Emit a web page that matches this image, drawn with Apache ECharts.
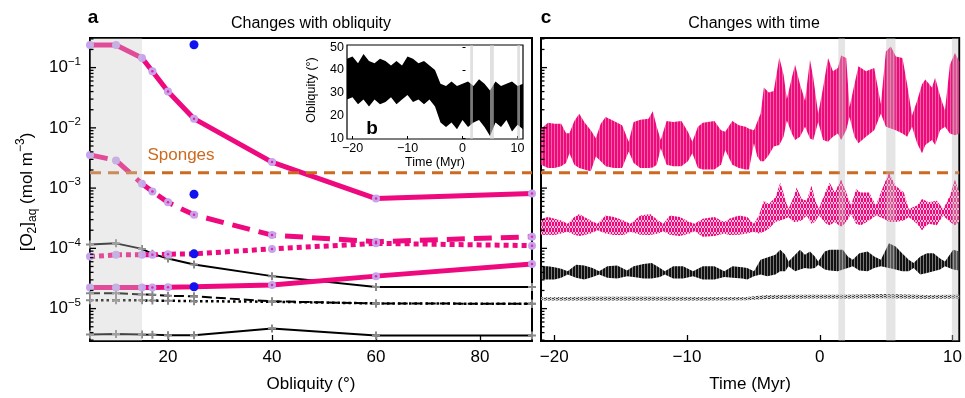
<!DOCTYPE html>
<html><head><meta charset="utf-8">
<script src="https://cdn.jsdelivr.net/npm/echarts@6/dist/echarts.min.js"></script>
<style>html,body{margin:0;padding:0;background:#fff}#c{width:965px;height:398px}</style>
</head><body><div id="c"></div>
<script>
// ---------------- DATA ----------------
// Panel a: [O2]aq vs obliquity
const obliquity = [5, 10, 15, 17, 20, 25, 40, 60, 90];
const pinkSolidHigh = [0.237, 0.237, 0.144, 0.087, 0.040, 0.0142, 0.0027, 6.7e-4, 8.1e-4];
const pinkDashed   = [3.56e-3, 2.88e-3, 1.18e-3, 8.8e-4, 5.8e-4, 3.6e-4, 1.66e-4, 1.29e-4, 1.56e-4];
const pinkDotted   = [7.3e-5, 7.8e-5, 7.8e-5, 7.8e-5, 8.0e-5, 8.1e-5, 9.8e-5, 1.21e-4, 1.11e-4];
const pinkSolidLow = [2.23e-5, 2.25e-5, 2.25e-5, 2.25e-5, 2.26e-5, 2.3e-5, 2.47e-5, 3.46e-5, 5.5e-5];
const blackSolidHigh = [1.16e-4, 1.21e-4, 9.8e-5, 8.1e-5, 6.8e-5, 5.4e-5, 3.46e-5, 2.29e-5, 2.29e-5];
const blackDashed  = [1.80e-5, 1.80e-5, 1.72e-5, 1.70e-5, 1.63e-5, 1.60e-5, 1.32e-5, 1.22e-5, 1.20e-5];
const blackDotted  = [1.37e-5, 1.37e-5, 1.37e-5, 1.36e-5, 1.35e-5, 1.33e-5, 1.30e-5, 1.22e-5, 1.20e-5];
const blackSolidLow = [3.71e-6, 3.8e-6, 3.71e-6, 3.7e-6, 3.6e-6, 3.6e-6, 4.67e-6, 3.57e-6, 3.57e-6];
const blueObliquity = 25;
const blueValues = [0.24, 7.9e-4, 8.1e-5, 2.31e-5];
const spongeThreshold = 1.8e-3;
const shadedObliquity = [5, 15];

// Panel c: envelopes (low / high) of [O2]aq vs time (Myr)
const tA = [-21.0,-20.47,-19.98,-19.48,-19.11,-18.86,-18.49,-18.12,-17.74,-17.25,-16.87,-16.50,-16.13,-15.51,-14.89,-14.39,-14.02,-13.52,-12.9,-12.58,-12.28,-11.98,-11.54,-11.04,-10.42,-9.93,-9.60,-9.18,-8.81,-7.94,-7.44,-7.12,-6.59,-6.09,-5.59,
  -5.33,-4.96,-4.71,-4.46,-4.21,-3.84,-3.47,-3.05,-2.73,-2.48,-2.11,-1.86,-1.49,-1.11,-0.74,-0.49,-0.12,0.25,0.62,0.99,1.36,1.61,1.99,2.24,2.61,2.91,3.48,4.10,4.60,4.98,5.35,5.73,6.23,6.58,6.95,7.33,7.70,7.95,8.45,8.69,9.06,9.43,9.80,10.18,10.5];
const hiA = [0.0097,0.0121,0.0117,0.0117,0.0081,0.0081,0.0130,0.0171,0.0125,0.0091,0.0067,0.0117,0.0151,0.0130,0.0110,0.0059,0.0125,0.0136,0.0142,0.0189,0.0104,0.0063,0.0130,0.0125,0.0130,0.0086,0.0059,0.0104,0.0121,0.0130,0.0091,0.0086,0.0130,0.0110,0.0104,
  0.0097,0.0091,0.0125,0.0171,0.0466,0.0386,0.0410,0.147,0.0769,0.0300,0.0679,0.112,0.0528,0.0282,0.135,0.0679,0.0171,0.0466,0.144,0.0871,0.0989,0.159,0.144,0.0220,0.0528,0.105,0.0871,0.0989,0.0249,0.185,0.223,0.153,0.144,0.0528,0.0160,0.0282,0.0528,0.0637,0.0466,0.0679,0.0340,0.0194,0.112,0.174,0.127];
const loA = [0.00245,0.00216,0.00216,0.0023,0.00261,0.0038,0.00245,0.00216,0.00203,0.00191,0.00336,0.00278,0.0023,0.00216,0.00216,0.00405,0.00261,0.00216,0.00216,0.0022,0.00245,0.00458,0.00245,0.0023,0.0023,0.00278,0.0038,0.00216,0.00203,0.00203,0.00245,0.0043,0.00245,0.00216,0.00203,
  0.00203,0.00553,0.00336,0.00278,0.00278,0.00356,0.00489,0.00519,0.00711,0.0133,0.00806,0.00627,0.00711,0.0104,0.00667,0.00627,0.0125,0.00627,0.00589,0.00711,0.00806,0.00627,0.00913,0.0151,0.00711,0.00553,0.00711,0.00913,0.0171,0.0104,0.00972,0.00913,0.00806,0.00711,0.0104,0.00553,0.0038,0.00519,0.00627,0.00519,0.00913,0.0104,0.00806,0.00757,0.00806];

const tB = [-21.0,-20.47,-19.98,-19.48,-18.99,-18.49,-18.12,-17.74,-17.25,-16.75,-16.13,-15.51,-14.77,-14.27,-13.52,-12.78,-12.16,-11.79,-11.29,-10.55,-9.80,-9.43,-8.81,-7.94,-7.19,-6.82,-6.09,-5.47,
  -4.96,-4.59,-4.21,-3.84,-3.35,-2.98,-2.6,-2.36,-1.98,-1.74,-1.37,-0.99,-0.62,-0.37,-0.07,0.50,0.75,1.12,1.61,1.99,2.36,2.73,3.1,3.72,4.22,4.84,5.21,5.71,6.33,6.70,7.33,7.70,8.20,8.81,9.30,9.80,10.18,10.5];
const hiB = [3.1e-4,3.3e-4,3.1e-4,2.91e-4,2.57e-4,3.3e-4,3.73e-4,3.3e-4,2.91e-4,2.57e-4,3.52e-4,3.3e-4,2.91e-4,2.57e-4,3.52e-4,3.73e-4,2.91e-4,2.57e-4,3.52e-4,3.3e-4,2.74e-4,2.57e-4,3.1e-4,3.3e-4,2.74e-4,3.1e-4,3.52e-4,3.3e-4,
  2.57e-4,3.52e-4,6.18e-4,5.44e-4,7.0e-4,1.23e-3,6.57e-4,4.51e-4,7.0e-4,1.02e-3,6.57e-4,6.18e-4,1.09e-3,6.57e-4,4.51e-4,9.55e-4,1.23e-3,8.45e-4,1.39e-3,8.45e-4,5.12e-4,9.55e-4,8.45e-4,8.45e-4,5.12e-4,1.15e-3,1.79e-3,1.09e-3,8.45e-4,4.51e-4,5.12e-4,6.57e-4,5.8e-4,6.18e-4,4.51e-4,7.46e-4,1.39e-3,8.45e-4];
const loB = [1.66e-4,1.69e-4,1.66e-4,1.76e-4,1.88e-4,1.69e-4,1.61e-4,1.66e-4,1.76e-4,2.0e-4,1.76e-4,1.66e-4,1.66e-4,1.88e-4,1.69e-4,1.66e-4,1.76e-4,1.93e-4,1.69e-4,1.61e-4,1.76e-4,1.93e-4,1.56e-4,1.61e-4,1.76e-4,1.66e-4,1.69e-4,1.76e-4,
  1.88e-4,1.76e-4,1.88e-4,2.12e-4,2.74e-4,2.91e-4,3.1e-4,3.3e-4,2.74e-4,2.74e-4,2.91e-4,3.52e-4,2.57e-4,2.74e-4,3.52e-4,2.57e-4,2.41e-4,2.74e-4,2.27e-4,2.74e-4,3.73e-4,2.57e-4,2.41e-4,2.91e-4,3.52e-4,3.1e-4,2.74e-4,2.74e-4,2.91e-4,3.3e-4,2.57e-4,2.0e-4,2.57e-4,2.41e-4,3.52e-4,2.74e-4,2.41e-4,2.74e-4];

const tC = [-21.0,-20.47,-19.98,-19.48,-18.99,-18.36,-17.74,-17.12,-16.62,-16.0,-15.26,-14.52,-14.02,-13.28,-12.66,-12.04,-11.67,-11.04,-10.30,-9.55,-8.81,-7.94,-7.19,-6.57,-5.83,-5.47,
  -4.96,-4.46,-3.96,-3.35,-2.98,-2.6,-2.36,-1.86,-1.49,-1.12,-0.74,-0.37,-0.12,0.37,0.75,1.36,1.74,2.11,2.48,2.98,3.6,4.1,4.6,5.21,5.71,6.2,6.7,7.07,7.57,8.07,8.57,9.06,9.43,10.05,10.5];
const hiC = [5.04e-5,5.04e-5,4.85e-5,4.6e-5,4.17e-5,5.37e-5,5.2e-5,4.72e-5,4.17e-5,5.04e-5,5.2e-5,4.28e-5,5.04e-5,5.5e-5,5.7e-5,4.72e-5,4.17e-5,5.04e-5,5.04e-5,4.17e-5,5.04e-5,5.04e-5,4.17e-5,5.04e-5,4.85e-5,4.72e-5,
  4.17e-5,6.47e-5,7.06e-5,7.82e-5,9.44e-5,7.82e-5,6.08e-5,7.82e-5,9.44e-5,7.82e-5,8.85e-5,7.33e-5,6.08e-5,8.85e-5,9.44e-5,9.44e-5,9.44e-5,7.33e-5,6.47e-5,8.3e-5,8.85e-5,7.33e-5,6.47e-5,1.21e-4,1.07e-4,8.3e-5,6.47e-5,5.7e-5,7.33e-5,8.3e-5,8.3e-5,6.8e-5,6.08e-5,9.44e-5,8.85e-5];
const loC = [3.05e-5,3.05e-5,3.05e-5,3.24e-5,3.68e-5,3.24e-5,3.05e-5,3.35e-5,3.68e-5,3.24e-5,3.15e-5,3.46e-5,3.35e-5,3.15e-5,3.15e-5,3.35e-5,3.68e-5,3.15e-5,3.15e-5,3.46e-5,3.05e-5,3.05e-5,3.35e-5,3.24e-5,3.15e-5,3.05e-5,
  3.46e-5,3.68e-5,3.46e-5,3.68e-5,4.17e-5,4.17e-5,5.04e-5,4.17e-5,4.45e-5,4.72e-5,4.6e-5,4.72e-5,5.37e-5,4.45e-5,4.28e-5,4.17e-5,4.45e-5,4.72e-5,5.04e-5,4.28e-5,4.17e-5,4.72e-5,5.04e-5,4.72e-5,4.45e-5,4.17e-5,4.17e-5,4.72e-5,3.68e-5,3.91e-5,4.17e-5,4.45e-5,5.04e-5,4.45e-5,4.28e-5];

const tD = [-21, -17, -13, -9, -5.5, -4, -1, 2, 5, 8, 10.5];
const hiD = [1.55e-5,1.57e-5,1.58e-5,1.56e-5,1.56e-5,1.68e-5,1.70e-5,1.70e-5,1.74e-5,1.68e-5,1.70e-5];
const loD = [1.36e-5,1.36e-5,1.36e-5,1.36e-5,1.37e-5,1.45e-5,1.47e-5,1.47e-5,1.48e-5,1.46e-5,1.47e-5];

const timeBandsStart = [1.4, 5.0, 9.95];
const timeBandsEnd   = [1.9, 5.7, 10.45];

// Panel b (inset): obliquity envelope vs time
const tI  = [-21,-20,-19,-18,-17,-16,-15,-14,-13,-12,-11,-10,-9,-8,-7,-6,-5,-4,-3,-2,-1,0,1,2,3,4,5,6,7,8,9,10,11];
const hiI = [45,46,43,47,44,43,45,44,42,44,42,46,45,43,44,42,40,34,33,35,33,34,35,33,36,34,31,35,33,34,35,33,34];
const loI = [27,28,25,27,24,27,25,26,28,25,27,29,26,27,25,27,24,17,15,17,14,18,15,17,18,15,11,17,15,18,13,16,14];

// Axis tick labels
const obliqTicks = [20, 40, 60, 80];
const timeTicks = [-20, -10, 0, 10];
const insetYTicks = [10, 20, 30, 40, 50];

// ---------------- STYLE / LAYOUT ----------------
const FONT = 'Liberation Sans, Arial, Helvetica, sans-serif';
const PINK = '#ee0a7e', LAV = '#c7a3f0', GRAYM = '#8a8a8a', ORANGE = '#cc6a1f', BLUE = '#1212ee';
const YMIN = 2.9e-6, YMAX = 0.31;

function pattern(w, h, draw) {
  const c = document.createElement('canvas'); c.width = w; c.height = h;
  const ctx = c.getContext('2d'); draw(ctx); return { image: c, repeat: 'repeat' };
}
const patA = pattern(3, 1, ctx => { ctx.fillStyle = PINK; ctx.fillRect(0,0,2,1); ctx.fillStyle = '#f4649f'; ctx.fillRect(2,0,1,1); });
const patB = pattern(3, 6, ctx => { ctx.fillStyle = '#f9b8d6'; ctx.fillRect(0,0,3,6); ctx.fillStyle = PINK; ctx.fillRect(0,0,2,4); ctx.fillRect(2,4,1,2); });
const patC = pattern(3, 1, ctx => { ctx.fillStyle = '#111'; ctx.fillRect(0,0,2,1); ctx.fillStyle = '#7a7a7a'; ctx.fillRect(2,0,1,1); });
const patD = pattern(4, 2, ctx => { ctx.fillStyle = '#cfcfcf'; ctx.fillRect(0,0,4,2); ctx.fillStyle = '#444'; ctx.fillRect(0,0,2,1); ctx.fillRect(2,1,1,1); });

function zip(xs, ys) { return xs.map((x, i) => [x, ys[i]]); }

function bandSeries(axisIdx, ts, lo, hi, fill, z) {
  return {
    type: 'custom', xAxisIndex: axisIdx, yAxisIndex: axisIdx, z, clip: true, silent: true,
    data: ts.map((t, i) => [t, lo[i], hi[i]]),
    encode: { x: 0, y: [1, 2] },
    renderItem(params, api) {
      if (params.dataIndex !== 0) return null;
      const pts = [];
      for (let i = 0; i < ts.length; i++) pts.push(api.coord([ts[i], hi[i]]));
      for (let i = ts.length - 1; i >= 0; i--) pts.push(api.coord([ts[i], lo[i]]));
      return { type: 'polygon', shape: { points: pts }, style: { fill } };
    }
  };
}

function overlaySeries(axisIdx, starts, ends, color, z) {
  return {
    type: 'custom', xAxisIndex: axisIdx, yAxisIndex: axisIdx, z, silent: true, clip: true,
    data: starts.map((s, i) => [s, ends[i]]),
    encode: { x: [0, 1] },
    renderItem(params, api) {
      const cs = params.coordSys;
      const x0 = api.coord([api.value(0), 1e-3])[0];
      const x1 = api.coord([api.value(1), 1e-3])[0];
      return { type: 'rect', shape: { x: x0, y: cs.y, width: x1 - x0, height: cs.height }, style: { fill: color } };
    }
  };
}

// minor/major ticks for the log axes (decoration)
const logTickVals = [];
for (let k = -6; k <= -1; k++) for (let m = 1; m <= 9; m++) {
  const v = m * Math.pow(10, k);
  if (v >= YMIN && v <= YMAX) logTickVals.push([m, v]);
}
function logTickSeries(axisIdx, xAt) {
  return {
    type: 'custom', xAxisIndex: axisIdx, yAxisIndex: axisIdx, z: 9, silent: true, clip: false,
    data: logTickVals.map(d => [xAt, d[1], d[0]]),
    encode: { x: 0, y: 1 },
    renderItem(params, api) {
      const p = api.coord([api.value(0), api.value(1)]);
      const len = api.value(2) === 1 ? 6 : 3.5;
      return { type: 'line', shape: { x1: p[0], y1: p[1], x2: p[0] + len, y2: p[1] }, style: { stroke: '#000', lineWidth: 1.3 } };
    }
  };
}

const plusSym = 'path://M3,0H5V3H8V5H5V8H3V5H0V3H3Z';
function pinkLine(vals, dash) {
  return {
    type: 'line', xAxisIndex: 0, yAxisIndex: 0, z: 4, data: zip(obliquity, vals),
    lineStyle: { color: PINK, width: 5, type: dash, cap: 'butt' },
    symbol: 'circle', symbolSize: 8, itemStyle: { color: LAV, borderWidth: 0 }, showSymbol: true
  };
}
function blackLine(vals, dash, width) {
  return {
    type: 'line', xAxisIndex: 0, yAxisIndex: 0, z: 3, data: zip(obliquity, vals),
    lineStyle: { color: '#000', width: width || 2, type: dash },
    symbol: plusSym, symbolSize: 8, itemStyle: { color: GRAYM, borderWidth: 0 }, showSymbol: true
  };
}
function pinkCenters(vals) {
  return { type: 'scatter', xAxisIndex: 0, yAxisIndex: 0, z: 5, symbolSize: 2.5, itemStyle: { color: PINK },
    data: zip(obliquity, vals).slice(3) };
}

const minusFmt = v => (v < 0 ? '\u2212' + (-v) : String(v));
function logFmt(v) {
  const l = Math.log10(v), e = Math.round(l);
  if (Math.abs(l - e) > 1e-6) return '';
  return '{b|10}{s|' + (e < 0 ? '\u2212' + (-e) : e) + '}';
}
const logRich = { b: { fontSize: 17, lineHeight: 24, fontFamily: FONT, color: '#000' },
                  s: { fontSize: 11.5, lineHeight: 12, verticalAlign: 'top', fontFamily: FONT, color: '#000' } };

const baseText = { color: '#000', fontFamily: FONT };
const option = {
  animation: false,
  backgroundColor: '#fff',
  grid: [
    { left: 90, top: 38, width: 442, height: 308, show: true, borderColor: '#000', borderWidth: 2, backgroundColor: 'rgba(0,0,0,0)' },
    { left: 541, top: 38, width: 423, height: 308, show: true, borderColor: '#000', borderWidth: 2, backgroundColor: 'rgba(0,0,0,0)' },
    { left: 347, top: 45, width: 176, height: 94, show: true, borderColor: '#000', borderWidth: 1.2, backgroundColor: 'rgba(0,0,0,0)' }
  ],
  xAxis: [
    { gridIndex: 0, type: 'value', min: 5, max: 90, axisLine: { show: false }, splitLine: { show: false },
      axisTick: { inside: true, length: 6, customValues: obliqTicks, lineStyle: { color: '#000', width: 1.3 } },
      axisLabel: Object.assign({ customValues: obliqTicks, fontSize: 17, margin: 8 }, baseText),
      name: 'Obliquity (°)', nameLocation: 'middle', nameGap: 35, nameTextStyle: Object.assign({ fontSize: 17 }, baseText) },
    { gridIndex: 1, type: 'value', min: -21, max: 10.5, axisLine: { show: false }, splitLine: { show: false },
      axisTick: { inside: true, length: 6, customValues: timeTicks, lineStyle: { color: '#000', width: 1.3 } },
      axisLabel: Object.assign({ customValues: timeTicks, fontSize: 17, margin: 8, formatter: minusFmt }, baseText),
      name: 'Time (Myr)', nameLocation: 'middle', nameGap: 35, nameTextStyle: Object.assign({ fontSize: 17 }, baseText) },
    { gridIndex: 2, type: 'value', min: -21, max: 11, axisLine: { show: false }, splitLine: { show: false },
      axisTick: { inside: true, length: 3, customValues: timeTicks, lineStyle: { color: '#000', width: 1 } },
      axisLabel: Object.assign({ customValues: timeTicks, fontSize: 12.5, margin: 3, formatter: minusFmt }, baseText),
      name: 'Time (Myr)', nameLocation: 'middle', nameGap: 17, nameTextStyle: Object.assign({ fontSize: 12.5 }, baseText) }
  ],
  yAxis: [
    { gridIndex: 0, type: 'log', logBase: 10, min: YMIN, max: YMAX, axisLine: { show: false }, axisTick: { show: false }, splitLine: { show: false },
      axisLabel: { formatter: logFmt, rich: logRich, margin: 9, showMinLabel: false, showMaxLabel: false } },
    { gridIndex: 1, type: 'log', logBase: 10, min: YMIN, max: YMAX, axisLine: { show: false }, axisTick: { show: false }, splitLine: { show: false },
      axisLabel: { show: false } },
    { gridIndex: 2, type: 'value', min: 9.7, max: 51, axisLine: { show: false }, splitLine: { show: false },
      axisTick: { inside: true, length: 3, customValues: insetYTicks, lineStyle: { color: '#000', width: 1 } },
      axisLabel: Object.assign({ customValues: insetYTicks, fontSize: 12.5, margin: 3 }, baseText) }
  ],
  series: [
    // panel a
    blackLine(blackSolidHigh, 'solid'),
    blackLine(blackDashed, [10, 4]),
    blackLine(blackDotted, [2.5, 3], 2.5),
    blackLine(blackSolidLow, 'solid'),
    pinkLine(pinkSolidHigh, 'solid'),
    pinkLine(pinkDashed, [18, 9]),
    pinkLine(pinkDotted, [5, 4]),
    pinkLine(pinkSolidLow, 'solid'),
    pinkCenters(pinkSolidHigh), pinkCenters(pinkDashed), pinkCenters(pinkDotted), pinkCenters(pinkSolidLow),
    { type: 'scatter', xAxisIndex: 0, yAxisIndex: 0, z: 6, symbolSize: 9, itemStyle: { color: BLUE, opacity: 1 },
      data: blueValues.map(v => [blueObliquity, v]) },
    { type: 'line', xAxisIndex: 0, yAxisIndex: 0, z: 5, symbol: 'none',
      data: [[5, spongeThreshold], [90, spongeThreshold]], lineStyle: { color: ORANGE, width: 3, type: [11, 7] } },
    overlaySeries(0, [shadedObliquity[0]], [shadedObliquity[1]], 'rgba(200,200,200,0.35)', 8),
    logTickSeries(0, 5),
    // panel c
    bandSeries(1, tD, loD, hiD, patD, 2),
    bandSeries(1, tC, loC, hiC, patC, 2),
    bandSeries(1, tB, loB, hiB, patB, 2),
    bandSeries(1, tA, loA, hiA, patA, 2),
    { type: 'line', xAxisIndex: 1, yAxisIndex: 1, z: 5, symbol: 'none',
      data: [[-21, spongeThreshold], [10.5, spongeThreshold]], lineStyle: { color: ORANGE, width: 3, type: [11, 7] } },
    overlaySeries(1, timeBandsStart, timeBandsEnd, 'rgba(190,190,190,0.4)', 8),
    logTickSeries(1, -21),
    // panel b (inset)
    bandSeries(2, tI, loI, hiI, '#000', 2),
    overlaySeries(2, timeBandsStart, timeBandsEnd, 'rgba(204,204,204,0.6)', 8)
  ],
  graphic: [
    { type: 'text', x: 93, y: 18, style: { text: 'a', fontSize: 19, fontWeight: 'bold', fontFamily: FONT, fill: '#000', align: 'center', verticalAlign: 'middle' } },
    { type: 'text', x: 546, y: 18, style: { text: 'c', fontSize: 19, fontWeight: 'bold', fontFamily: FONT, fill: '#000', align: 'center', verticalAlign: 'middle' } },
    { type: 'text', x: 372, y: 129, z: 20, style: { text: 'b', fontSize: 19, fontWeight: 'bold', fontFamily: FONT, fill: '#000', align: 'center', verticalAlign: 'middle' } },
    { type: 'text', x: 311, y: 24, style: { text: 'Changes with obliquity', fontSize: 16, fontFamily: FONT, fill: '#000', align: 'center', verticalAlign: 'middle' } },
    { type: 'text', x: 754, y: 24, style: { text: 'Changes with time', fontSize: 16, fontFamily: FONT, fill: '#000', align: 'center', verticalAlign: 'middle' } },
    { type: 'text', x: 181, y: 155, z: 20, style: { text: 'Sponges', fontSize: 17, fontFamily: FONT, fill: ORANGE, align: 'center', verticalAlign: 'middle' } },
    { type: 'text', x: 312, y: 90, rotation: Math.PI / 2, style: { text: 'Obliquity (°)', fontSize: 12.5, fontFamily: FONT, fill: '#000', align: 'center', verticalAlign: 'middle' } },
    { type: 'text', x: 27, y: 192, rotation: Math.PI / 2, style: {
        text: '{n|[O}{sb|2}{n|]}{sb|aq}{n| (mol m}{sp|\u22123}{n|)}', align: 'center', verticalAlign: 'middle',
        rich: { n: { fontSize: 17, lineHeight: 24, fontFamily: FONT, fill: '#000' },
                sb: { fontSize: 12, lineHeight: 13, verticalAlign: 'bottom', fontFamily: FONT, fill: '#000' },
                sp: { fontSize: 12, lineHeight: 12, verticalAlign: 'top', fontFamily: FONT, fill: '#000' } } } }
  ]
};
const chart = echarts.init(document.getElementById('c'), null, { renderer: 'canvas' });
chart.setOption(option);
</script></body></html>
